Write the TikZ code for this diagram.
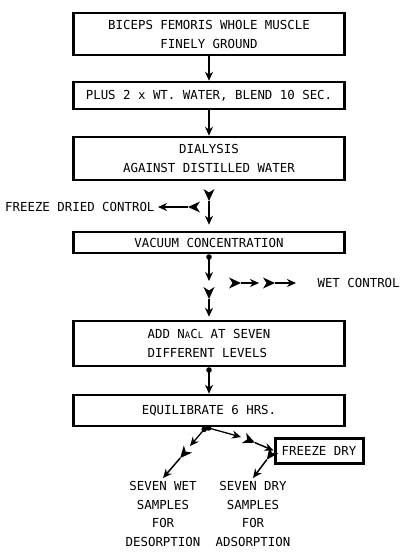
\documentclass[tikz,border=0pt]{standalone}
\usepackage{fontspec}
\setmonofont{DejaVu Sans Mono}
\usetikzlibrary{arrows.meta,positioning}
\newcommand{\smallcap}[1]{{\fontsize{9}{9}\selectfont #1}}
\tikzset{
  stepbox/.style={draw,line width=2.5pt,minimum width=271pt,inner sep=2pt},
  flow/.style={-{Stealth[length=9pt,width=8pt]},line width=1.3pt},
  knobbed/.style={{Circle[length=5.5pt]}-{Stealth[length=9pt,width=8pt]},line width=1.3pt},
  fletched/.style={{Stealth[reversed,length=12pt,width=11pt,inset=3.5pt,line width=0pt]}-{Stealth[length=9pt,width=8pt]},line width=1.5pt}
}

\begin{document}
\begin{tikzpicture}[x=1pt,y=-1pt,every node/.style={font=\ttfamily\fontsize{12.4}{19}\selectfont}]
        \useasboundingbox (0,0) rectangle (402,552);

        % main column of steps
        \node[stepbox,minimum height=42pt,align=center] (grind) at (209,34)
          {BICEPS FEMORIS WHOLE MUSCLE\\FINELY GROUND};
        \node[stepbox,minimum height=27pt] (blend) at (209,95.5)
          {PLUS 2 x WT. WATER, BLEND 10 SEC.};
        \node[stepbox,minimum height=43pt,align=center] (dial) at (209,158.5)
          {DIALYSIS\\AGAINST DISTILLED WATER};
        \node[stepbox,minimum height=21pt] (vac) at (209,242.5)
          {VACUUM CONCENTRATION};
        \node[stepbox,minimum height=45pt,align=left] (salt) at (209,343.5)
          {ADD N\smallcap{A}C\smallcap{L} AT SEVEN\\DIFFERENT LEVELS};
        \node[stepbox,minimum height=31pt] (eqlb) at (209,410.5)
          {EQUILIBRATE 6 HRS.};
        \node[stepbox,minimum width=88pt,minimum height=25pt,line width=3pt] (fdry) at (319,450.5)
          {FREEZE DRY};

        % side outputs and end samples
        \node[anchor=east] (fdc) at (158,207) {FREEZE DRIED CONTROL};
        \node[anchor=west] (wetc) at (314,283) {WET CONTROL};
        \node[anchor=north,align=center,font=\ttfamily\fontsize{12.4}{18.5}\selectfont] (wetsamp) at (163,478)
          {SEVEN WET\\SAMPLES\\FOR\\DESORPTION};
        \node[anchor=north,align=center,font=\ttfamily\fontsize{12.4}{18.5}\selectfont] (drysamp) at (253,478)
          {SEVEN DRY\\SAMPLES\\FOR\\ADSORPTION};

        % free ends of the feathered arrows
        \coordinate (fdtail) at (209,189);
        \coordinate (fdctail) at (200,207);
        \coordinate (vachead) at (209,281);
        \coordinate (salttail) at (209,287);
        \coordinate (w1) at (229,283);
        \coordinate (w2) at (259,283);
        \coordinate (w3) at (263,283);
        \coordinate (lhead) at (190,446);
        \coordinate (ltail) at (188,449);
        \coordinate (rhead) at (241,437);
        \coordinate (rtail) at (244,438);
        \coordinate (drytail) at (274,450);

        % down the column
        \draw[flow] (grind) -- (blend);
        \draw[flow] (blend) -- (dial);
        \draw[fletched,shorten >=6pt] (fdtail) -- (vac.north);
        \draw[fletched] (fdctail) -- (fdc);
        \draw[knobbed] (vac.south) -- (vachead);
        \draw[fletched] (w1) -- (w2);
        \draw[fletched,shorten >=18pt] (w3) -- (wetc);
        \draw[fletched,shorten >=3pt] (salttail) -- (salt.north);
        \draw[knobbed] (salt) -- (eqlb);

        % split after equilibration
        \draw[knobbed] ([xshift=-3pt]eqlb.south) -- (lhead);
        \draw[fletched] (ltail) -- (wetsamp.north);
        \draw[knobbed] ([xshift=-3pt]eqlb.south) -- (rhead);
        \draw[fletched] (rtail) -- (fdry.west);
        \draw[fletched] (drytail) -- (drysamp.north);
      \end{tikzpicture}
\end{document}
